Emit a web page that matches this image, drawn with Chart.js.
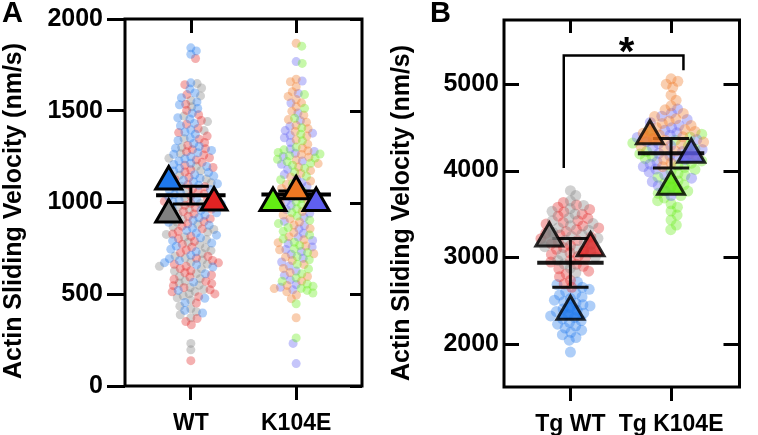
<!DOCTYPE html>
<html><head><meta charset="utf-8">
<script src="https://cdn.jsdelivr.net/npm/chart.js@4.4.1/dist/chart.umd.min.js"></script>
<style>
html,body{margin:0;padding:0;background:#fff;}
#wrap{position:relative;width:758px;height:435px;overflow:hidden;background:#fff;}
#cA{position:absolute;left:0;top:0;width:380px;height:435px;}
#cB{position:absolute;left:380px;top:0;width:378px;height:435px;}
</style></head><body>
<div id="wrap"><canvas id="cA" width="380" height="435"></canvas><canvas id="cB" width="378" height="435"></canvas></div>
<script>
// ---------------- DATA ----------------
const panelACategories = ['WT', 'K104E'];
const panelBCategories = ['Tg WT', 'Tg K104E'];
const panelAYTicks = [0, 500, 1000, 1500, 2000];
const panelBYTicks = [2000, 3000, 4000, 5000];
const yAxisTitle = 'Actin Sliding Velocity (nm/s)';

// Panel A, WT – individual filaments (nm/s)
const aWtBlue = [1843,1826,1808,1652,1618,1597,1571,1548,1533,1512,1487,1462,1455,1431,1418,1396,1384,1372,1351,1338,1322,1305,1296,1284,1271,1263,1249,1238,1226,1214,1207,1196,1185,1172,1163,1151,1144,1132,1121,1113,1102,1094,1083,1071,1066,1054,1043,1031,1022,1011,1003,992,981,967,958,944,931,917,903,892,876,861,847,834,822,808,791,779,762,745,731,712,694,683,672,661,648,612,566,521,478,455,412,398];
const aWtRed = [1785,1642,1588,1536,1502,1478,1447,1426,1403,1381,1362,1345,1327,1311,1293,1288,1276,1259,1244,1232,1219,1203,1191,1178,1166,1155,1137,1126,1118,1097,1086,1074,1058,1047,1036,1018,1006,996,985,972,963,951,938,925,912,896,884,871,856,843,828,816,803,788,772,756,741,726,707,696,684,671,663,652,641,628,617,605,594,582,571,558,547,536,524,513,502,487,452,368,351,334,138];
const aWtGray = [1648,1624,1581,1556,1522,1471,1441,1392,1348,1301,1266,1241,1197,1173,1149,1128,1107,1089,1062,1041,1026,1009,994,977,961,948,934,921,908,894,881,867,853,839,826,812,798,784,769,753,738,722,709,697,686,675,664,652,639,627,613,598,585,572,561,549,537,526,515,503,492,481,468,435,421,405,388,372,232,197];
// Panel A, K104E
const aK104eGreen = [1852,1758,1588,1513,1459,1407,1372,1336,1302,1287,1273,1264,1255,1242,1236,1223,1214,1203,1187,1166,1143,1124,1102,1083,1061,1043,1022,1004,987,966,944,926,903,885,864,843,823,802,784,766,748,727,706,688,663,638,612,589,571,556,543,532,521,507,448,262];
const aK104eOrange = [1868,1672,1658,1631,1604,1578,1561,1543,1522,1497,1476,1452,1438,1421,1402,1387,1362,1341,1318,1297,1281,1262,1247,1231,1212,1193,1174,1158,1139,1117,1098,1076,1054,1032,1011,992,973,951,932,911,894,877,858,836,814,797,781,763,742,721,703,684,662,641,618,597,572,548,531,513,496,476,372];
const aK104ePurple = [1768,1662,1594,1542,1488,1446,1415,1392,1378,1366,1353,1327,1291,1278,1268,1251,1226,1208,1181,1152,1128,1109,1088,1067,1048,1026,1007,983,962,941,918,897,873,856,832,811,793,776,758,744,733,718,696,676,654,627,603,578,553,538,524,232,122];
// Panel B, Tg WT
const bTgWtGray = [3768,3712,3650,3597,3561,3530,3498,3452,3421,3388,3364,3340,3312,3286,3263,3241,3218,3196,3172,3150,3121,3092,3063,3031,2998,2962,2921,2874,2820];
const bTgWtRed = [3632,3604,3578,3551,3522,3497,3473,3447,3422,3401,3382,3361,3337,3318,3297,3276,3255,3233,3214,3192,3174,3153,3134,3112,3091,3072,3051,3032,3011,2987,2964,2943,2918,2894,2866,2838,2806,2774,2733,2692,2651];
const bTgWtBlue = [2712,2683,2651,2628,2604,2583,2562,2541,2522,2503,2487,2468,2451,2436,2418,2401,2386,2371,2353,2338,2321,2304,2287,2268,2247,2226,2204,2181,2157,2132,2104,2072,2041,1903];
// Panel B, Tg K104E
const bTgK104eOrange = [5060,5032,4998,4962,4871,4812,4748,4702,4661,4624,4598,4572,4545,4521,4498,4474,4452,4431,4412,4391,4372,4351,4330,4306,4281,4253,4226,4196,4163,4128,4088,4046];
const bTgK104ePurple = [4712,4663,4628,4591,4557,4523,4494,4466,4438,4409,4383,4358,4334,4312,4289,4267,4244,4222,4198,4173,4150,4126,4101,4074,4047,4018,3986,3951,3913,3872,3826,3768,3712];
const bTgK104eGreen = [4458,4421,4387,4352,4318,4284,4251,4221,4193,4166,4138,4112,4086,4061,4037,4013,3991,3968,3946,3924,3902,3880,3857,3834,3812,3788,3763,3738,3712,3684,3652,3617,3578,3532,3486,3428,3371,3318];

// replicate means (triangles)
const aWtRepMeans = [1115, 935, 1000];        // blue, gray, red
const aK104eRepMeans = [997, 1061, 997];      // green, orange, purple
const bTgWtRepMeans = [3218, 3105, 2372];     // gray, red, blue
const bTgK104eRepMeans = [4401, 4187, 3815];  // orange, purple, green

// group mean ± SEM
const aGroupMeans = [1040, 1043];
const aGroupSems = [48, 20];
const bGroupMeans = [2935, 4200];
const bGroupSems = [282, 170];

// significance (panel B)
const bSignificance = '*';
const bBracketLevels = [4030, 5330, 5160]; // left foot, top, right foot

// ---------------- STYLE ----------------
const FONT = '"Liberation Sans", Arial, Helvetica, sans-serif';
const C = {
  blue: [30,120,235], red: [225,35,35], gray: [128,128,128],
  green: [100,235,20], orange: [238,120,35], purple: [95,95,240]
};
function rgba(c, a) { return 'rgba(' + c[0] + ',' + c[1] + ',' + c[2] + ',' + a + ')'; }

function dotsDataset(values, cat, color, radius) {
  return {
    type: 'scatter', swarmCat: cat,
    data: values.map(v => ({x: cat, y: v})),
    pointRadius: radius, pointHoverRadius: radius,
    pointBackgroundColor: rgba(color, 0.36), backgroundColor: rgba(color, 0.36),
    pointBorderWidth: 0, borderWidth: 0, order: 5
  };
}

function applySwarm(chart, D) {
  const xs = chart.scales.x, ys = chart.scales.y;
  const pxPerUnit = xs.getPixelForValue(1) - xs.getPixelForValue(0);
  const cats = [...new Set(chart.data.datasets.filter(d => d.swarmCat !== undefined).map(d => d.swarmCat))];
  cats.forEach(cat => {
    const pts = [];
    chart.data.datasets.forEach(ds => {
      if (ds.swarmCat === cat) ds.data.forEach(p => pts.push({p: p, py: ys.getPixelForValue(p.y)}));
    });
    pts.sort((a, b) => a.py - b.py);
    const placed = [];
    pts.forEach((pt, i) => {
      const near = placed.filter(q => Math.abs(q.py - pt.py) < D);
      const cands = [0];
      near.forEach(q => {
        const dx = Math.sqrt(D * D - (q.py - pt.py) * (q.py - pt.py));
        cands.push(q.px + dx, q.px - dx);
      });
      const sign = (i % 2) ? 1 : -1;
      cands.sort((a, b) => (Math.abs(a) - Math.abs(b)) || sign * (b - a));
      let px = 0;
      for (const c of cands) {
        if (near.every(q => (c - q.px) * (c - q.px) + (q.py - pt.py) * (q.py - pt.py) >= D * D - 0.01)) { px = c; break; }
      }
      placed.push({px: px, py: pt.py});
      pt.p.x = cat + px / pxPerUnit;
    });
  });
  chart.update('none');
}

const framePlugin = {
  id: 'frame',
  afterDraw(chart, args, o) {
    const ctx = chart.ctx, ca = chart.chartArea;
    const xs = chart.scales.x, ys = chart.scales.y;
    const P = chart.options.plugins.frame;
    ctx.save();
    ctx.strokeStyle = '#000';
    ctx.lineWidth = 3;
    ctx.lineJoin = 'miter';
    ctx.lineCap = 'butt';
    ctx.strokeRect(ca.left, ca.top, ca.right - ca.left, ca.bottom - ca.top);
    ctx.beginPath();
    [1, 2].forEach(v => {
      const px = Math.round(xs.getPixelForValue(v)) + 0.5;
      ctx.moveTo(px, ca.top); ctx.lineTo(px, ca.top + P.topLen);
    });
    P.yTicks.forEach(v => {
      const py = Math.round(ys.getPixelForValue(v)) + 0.5;
      ctx.moveTo(ca.right, py); ctx.lineTo(ca.right - P.rightLen, py);
      if (P.leftLen) { ctx.moveTo(ca.left, py); ctx.lineTo(ca.left + P.leftLen, py); }
    });
    ctx.stroke();
    // panel letter
    ctx.fillStyle = '#000';
    ctx.font = 'bold 29px ' + FONT;
    ctx.textAlign = 'left'; ctx.textBaseline = 'alphabetic';
    ctx.fillText(P.letter, P.letterX, 22);
    // axis title
    ctx.save();
    ctx.translate(P.titleX, P.titleY);
    ctx.rotate(-Math.PI / 2);
    ctx.font = 'bold 25px ' + FONT;
    ctx.textAlign = 'center'; ctx.textBaseline = 'middle';
    ctx.fillText(yAxisTitle, 0, 0);
    ctx.restore();
    // significance
    if (P.sig) {
      const x = (xs.getPixelForValue(P.sig.x1) + xs.getPixelForValue(P.sig.x2)) / 2 + 3;
      const y = ys.getPixelForValue(P.sig.top) + 10;
      ctx.font = 'bold 40px ' + FONT;
      ctx.textAlign = 'center'; ctx.textBaseline = 'alphabetic';
      ctx.fillText(P.sig.text, x, y);
    }
    ctx.restore();
  }
};

function buildPanel(canvas, P) {
  const datasets = [];
  P.groups.forEach((g, gi) => {
    g.series.forEach(s => datasets.push(dotsDataset(s.values, gi + 1, s.color, P.dotRadius)));
  });
  const meanData = [], semData = [];
  P.groups.forEach((g, gi) => {
    const cat = gi + 1, lo = g.mean - g.sem, hi = g.mean + g.sem;
    meanData.push({x: cat - P.meanHalf, y: g.mean}, {x: cat + P.meanHalf, y: g.mean}, {x: cat, y: null});
    semData.push({x: cat, y: lo}, {x: cat, y: hi}, {x: cat, y: null},
      {x: cat - P.capHalf, y: hi}, {x: cat + P.capHalf, y: hi}, {x: cat, y: null},
      {x: cat - P.capHalf, y: lo}, {x: cat + P.capHalf, y: lo}, {x: cat, y: null});
  });
  datasets.push({type: 'line', data: meanData, borderColor: P.lineColor, borderWidth: 4, pointRadius: 0, spanGaps: false, order: 3});
  datasets.push({type: 'line', data: semData, borderColor: P.lineColor, borderWidth: 3, pointRadius: 0, spanGaps: false, order: 3});
  P.groups.forEach((g, gi) => {
    const cat = gi + 1;
    datasets.push({
      type: 'scatter',
      data: g.reps.map((v, k) => ({x: cat + g.repOffsets[k], y: v})),
      pointStyle: 'triangle', pointRadius: P.triRadius, pointHoverRadius: P.triRadius,
      pointBackgroundColor: g.repColors.map(c => rgba(c, P.triAlpha)),
      pointBorderColor: P.triBorder, pointBorderWidth: 3, order: 1
    });
  });
  let sig = null;
  if (P.bracket) {
    const b = P.bracket;
    datasets.push({type: 'line', data: [
      {x: b.x1, y: b.levels[0]}, {x: b.x1, y: b.levels[1]}, {x: b.x2, y: b.levels[1]}, {x: b.x2, y: b.levels[2]}
    ], borderColor: '#000', borderWidth: 2.5, pointRadius: 0, order: 2});
    sig = {x1: b.x1, x2: b.x2, top: b.levels[1], text: b.text};
  }
  const chart = new Chart(canvas, {
    type: 'scatter',
    data: {datasets: datasets},
    options: {
      responsive: false, animation: false, events: [],
      layout: {padding: {top: P.top, right: P.right, left: 0, bottom: 0}},
      plugins: {
        legend: {display: false}, tooltip: {enabled: false},
        frame: {letter: P.letter, letterX: P.letterX, titleX: P.titleX, titleY: P.titleY,
                topLen: P.topLen, rightLen: P.rightLen, leftLen: P.leftLen, yTicks: P.yTicks, sig: sig}
      },
      scales: {
        x: {
          type: 'linear', min: P.xMin, max: P.xMax,
          afterBuildTicks: s => { s.ticks = [1, 2].map(v => ({value: v})); },
          afterFit: s => { s.height = P.xHeight; },
          ticks: {callback: v => P.categories[v - 1], font: {family: FONT, size: 23, weight: 'bold'}, color: '#000', padding: 10, maxRotation: 0, autoSkip: false},
          grid: {drawOnChartArea: false, drawTicks: true, tickLength: 14, lineWidth: 3, color: '#000'},
          border: {display: false}
        },
        y: {
          min: P.yMin, max: P.yMax,
          afterBuildTicks: s => { s.ticks = P.yTicks.map(v => ({value: v})); },
          afterFit: s => { s.width = P.yWidth; },
          ticks: {callback: v => String(v), font: {family: FONT, size: 25, weight: 'bold'}, color: '#000', padding: P.yPad},
          grid: {drawOnChartArea: false, drawTicks: P.leftOut > 0, tickLength: P.leftOut || 1, lineWidth: 3, color: '#000'},
          border: {display: false}
        }
      }
    },
    plugins: [framePlugin]
  });
  applySwarm(chart, P.swarmD);
  return chart;
}

buildPanel(document.getElementById('cA'), {
  letter: 'A', letterX: 2, titleX: 14, titleY: 211,
  categories: panelACategories, yTicks: panelAYTicks,
  yMin: 0, yMax: 2000, xMin: 0.375, xMax: 2.625,
  top: 11, right: 10, xHeight: 49, yWidth: 125, yPad: 4,
  leftOut: 18, leftLen: 0, topLen: 14, rightLen: 12,
  dotRadius: 4.5, swarmD: 6.3, triRadius: 15, triAlpha: 1, triBorder: '#000', lineColor: '#000',
  meanHalf: 0.33, capHalf: 0.17,
  groups: [
    {series: [{values: aWtBlue, color: C.blue}, {values: aWtRed, color: C.red}, {values: aWtGray, color: C.gray}],
     reps: aWtRepMeans, repColors: [C.blue, C.gray, C.red], repOffsets: [-0.21, -0.21, 0.22],
     mean: aGroupMeans[0], sem: aGroupSems[0]},
    {series: [{values: aK104eGreen, color: C.green}, {values: aK104eOrange, color: C.orange}, {values: aK104ePurple, color: C.purple}],
     reps: aK104eRepMeans, repColors: [C.green, C.orange, C.purple], repOffsets: [-0.22, 0, 0.19],
     mean: aGroupMeans[1], sem: aGroupSems[1]}
  ]
});

buildPanel(document.getElementById('cB'), {
  letter: 'B', letterX: 50, titleX: 22, titleY: 213,
  categories: panelBCategories, yTicks: panelBYTicks,
  yMin: 1500, yMax: 5740, xMin: 0.34, xMax: 2.68,
  top: 12, right: 2, xHeight: 48, yWidth: 124, yPad: 5,
  leftOut: 0, leftLen: 15, topLen: 13, rightLen: 16,
  dotRadius: 5.5, swarmD: 7.2, triRadius: 15.5, triAlpha: 0.8, triBorder: 'rgba(0,0,0,0.82)', lineColor: 'rgba(0,0,0,0.9)',
  meanHalf: 0.33, capHalf: 0.18,
  bracket: {x1: 0.934, x2: 2.123, levels: bBracketLevels, text: bSignificance},
  groups: [
    {series: [{values: bTgWtGray, color: C.gray}, {values: bTgWtRed, color: C.red}, {values: bTgWtBlue, color: C.blue}],
     reps: bTgWtRepMeans, repColors: [C.gray, C.red, C.blue], repOffsets: [-0.21, 0.2, 0],
     mean: bGroupMeans[0], sem: bGroupSems[0]},
    {series: [{values: bTgK104eOrange, color: C.orange}, {values: bTgK104ePurple, color: C.purple}, {values: bTgK104eGreen, color: C.green}],
     reps: bTgK104eRepMeans, repColors: [C.orange, C.purple, C.green], repOffsets: [-0.21, 0.2, 0],
     mean: bGroupMeans[1], sem: bGroupSems[1]}
  ]
});
</script></body></html>
